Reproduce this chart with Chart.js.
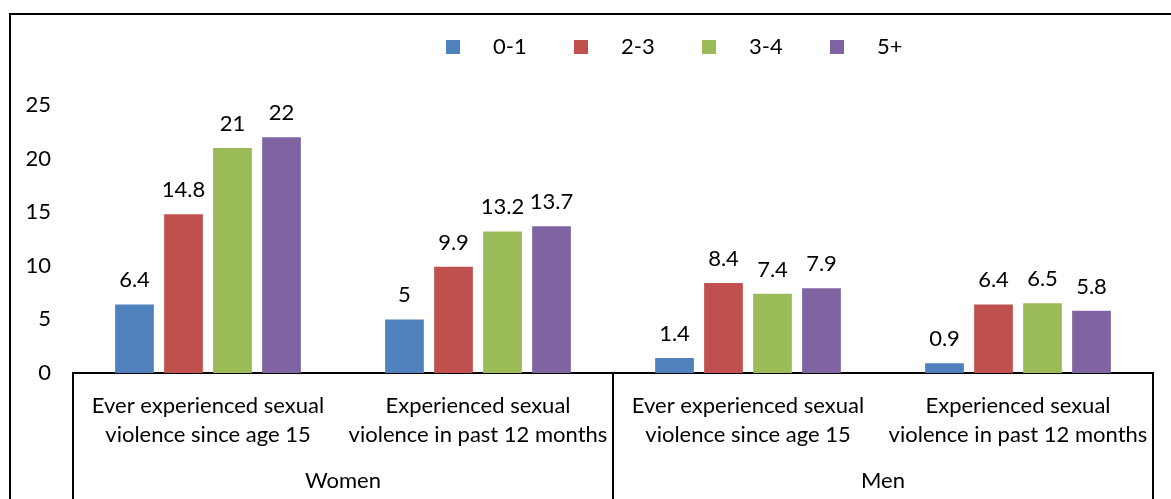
<!DOCTYPE html>
<html>
<head>
<meta charset="utf-8">
<script src="https://cdn.jsdelivr.net/npm/chart.js@4"></script>
<style>
  html, body { margin: 0; padding: 0; background: #fff; }
  canvas { display: block; }
</style>
</head>
<body>
<canvas id="chart" width="1171" height="499"></canvas>
<script>
// Data
const categories = [
  ['Ever experienced sexual', 'violence since age 15'],
  ['Experienced sexual', 'violence in past 12 months'],
  ['Ever experienced sexual', 'violence since age 15'],
  ['Experienced sexual', 'violence in past 12 months']
];
const groups = ['Women', 'Men'];
const groupSizes = [2, 2];
const seriesLabels = ['0-1', '2-3', '3-4', '5+'];
const seriesColors = ['#4F81BD', '#C0504D', '#9BBB59', '#8064A2'];
const values01 = [6.4, 5, 1.4, 0.9];
const values23 = [14.8, 9.9, 8.4, 6.4];
const values34 = [21, 13.2, 7.4, 6.5];
const values5p = [22, 13.7, 7.9, 5.8];
const yTicks = [0, 5, 10, 15, 20, 25];

const FONT = 'Lato, "Open Sans", sans-serif';
const SIZE = 22;

// Outer frame, group separators, group names
const framePlugin = {
  id: 'frame',
  beforeDraw(chart) {
    const c = chart.ctx;
    c.save();
    c.fillStyle = '#fff';
    c.fillRect(0, 0, chart.width, chart.height);
    c.strokeStyle = '#000';
    c.lineWidth = 2;
    c.strokeRect(10, 14, chart.width + 20, chart.height + 20);
    c.restore();
  },
  afterDraw(chart) {
    const c = chart.ctx;
    const x = chart.scales.x;
    const top = chart.chartArea.bottom;
    c.save();
    c.strokeStyle = '#000';
    c.lineWidth = 2;
    let start = 0;
    const edges = [x.getPixelForValue(-0.5)];
    groupSizes.forEach(n => {
      start += n;
      edges.push(x.getPixelForValue(start - 0.5));
    });
    edges.forEach(px => {
      c.beginPath();
      c.moveTo(Math.round(px), top);
      c.lineTo(Math.round(px), chart.height);
      c.stroke();
    });
    c.fillStyle = '#000';
    c.font = SIZE + 'px ' + FONT;
    c.textAlign = 'center';
    c.textBaseline = 'alphabetic';
    groups.forEach((g, i) => {
      c.fillText(g, (edges[i] + edges[i + 1]) / 2, 488);
    });
    c.restore();
  }
};

// Values above each bar
const valueLabels = {
  id: 'valueLabels',
  afterDatasetsDraw(chart) {
    const c = chart.ctx;
    c.save();
    c.fillStyle = '#000';
    c.font = SIZE + 'px ' + FONT;
    c.textAlign = 'center';
    c.textBaseline = 'alphabetic';
    chart.data.datasets.forEach((ds, i) => {
      chart.getDatasetMeta(i).data.forEach((bar, j) => {
        c.fillText(String(ds.data[j]), bar.x, bar.y - 17);
      });
    });
    c.restore();
  }
};

// Legend with Excel-like spacing
const legendPlugin = {
  id: 'customLegend',
  afterDraw(chart) {
    const c = chart.ctx;
    c.save();
    c.font = SIZE + 'px ' + FONT;
    c.textBaseline = 'middle';
    c.textAlign = 'left';
    chart.data.datasets.forEach((ds, i) => {
      const bx = 446 + i * 128;
      c.fillStyle = ds.backgroundColor;
      c.fillRect(bx, 40, 14, 14);
      c.fillStyle = '#000';
      c.fillText(ds.label, bx + 47, 47);
    });
    c.restore();
  }
};

const seriesData = [values01, values23, values34, values5p];

new Chart(document.getElementById('chart'), {
  type: 'bar',
  data: {
    labels: categories,
    datasets: seriesLabels.map((label, i) => ({
      label: label,
      data: seriesData[i],
      backgroundColor: seriesColors[i],
      borderWidth: 0,
      categoryPercentage: 0.726,
      barPercentage: 0.79
    }))
  },
  options: {
    responsive: false,
    devicePixelRatio: 1,
    animation: false,
    layout: { padding: { top: 105, right: 18, bottom: 0, left: 0 } },
    plugins: {
      legend: { display: false },
      tooltip: { enabled: false }
    },
    scales: {
      x: {
        grid: { display: false, drawTicks: false },
        border: { display: true, color: '#000', width: 2 },
        ticks: {
          color: '#000',
          font: { family: FONT, size: SIZE, lineHeight: 1.3 },
          maxRotation: 0,
          autoSkip: false,
          padding: 19
        },
        afterFit(scale) { scale.height = 126; }
      },
      y: {
        min: 0,
        max: 25,
        grid: { display: false, drawTicks: false },
        border: { display: false },
        afterBuildTicks(scale) { scale.ticks = yTicks.map(v => ({ value: v })); },
        ticks: {
          color: '#000',
          font: { family: FONT, size: SIZE },
          padding: 22
        },
        afterFit(scale) { scale.width = 73; }
      }
    }
  },
  plugins: [framePlugin, valueLabels, legendPlugin]
});
</script>
</body>
</html>
